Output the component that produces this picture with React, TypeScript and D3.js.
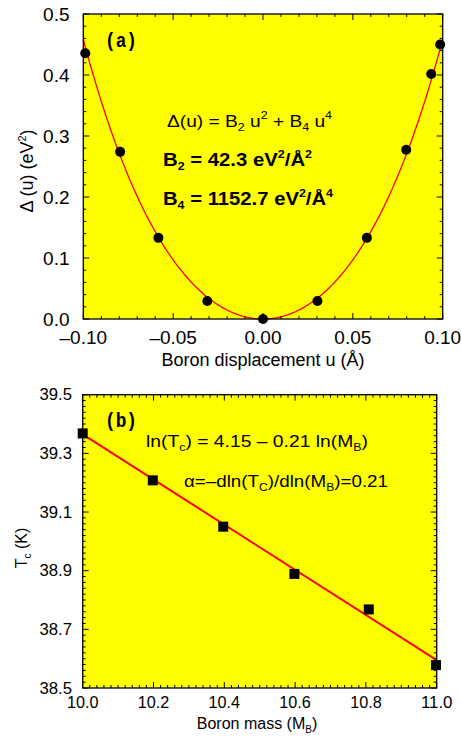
import * as d3 from "d3";

// panel (a): energy vs boron displacement
const dispU = [-0.0989, -0.0795, -0.0582, -0.031, 0, 0.0303, 0.0578, 0.0797, 0.0936, 0.0986];
const deltaE = [0.4356, 0.274, 0.133, 0.0295, 0, 0.0295, 0.133, 0.2776, 0.4016, 0.45];
// coefficients of the drawn red curve
const curveB2 = 36.4;
const curveB4 = 943;
const aXTicks = [-0.1, -0.05, 0, 0.05, 0.1];
const aXLabels = ["\u20130.10", "\u20130.05", "0.00", "0.05", "0.10"];
const aYTicks = [0, 0.1, 0.2, 0.3, 0.4, 0.5];
const aYLabels = ["0.0", "0.1", "0.2", "0.3", "0.4", "0.5"];

// panel (b): Tc vs boron mass
const boronMass = [10.0, 10.198, 10.397, 10.598, 10.808, 10.998];
const tcK = [39.368, 39.208, 39.05, 38.889, 38.768, 38.578];
const fitMass = [10.0, 11.0];
const fitTc = [39.365, 38.595];
const bXTicks = [10.0, 10.2, 10.4, 10.6, 10.8, 11.0];
const bXLabels = ["10.0", "10.2", "10.4", "10.6", "10.8", "11.0"];
const bYTicks = [38.5, 38.7, 38.9, 39.1, 39.3, 39.5];
const bYLabels = ["38.5", "38.7", "38.9", "39.1", "39.3", "39.5"];

const SANS = "'Liberation Sans', Arial, sans-serif";
const MONO = "'Liberation Mono', 'Courier New', monospace";

function Frame({ x, y, xMajor, yMajor, xMinor, yMinor }) {
  const [x0, x1] = x.range();
  const [y0, y1] = y.range(); // y0 bottom, y1 top
  const [xd0, xd1] = x.domain();
  const [yd0, yd1] = y.domain();
  const xm = d3.range(Math.round((xd1 - xd0) / xMinor) + 1).map((i) => xd0 + i * xMinor);
  const ym = d3.range(Math.round((yd1 - yd0) / yMinor) + 1).map((i) => yd0 + i * yMinor);
  const isMajor = (v, arr) => arr.some((m) => Math.abs(m - v) < 1e-9);
  return (
    <g stroke="#000" fill="none">
      {xm.map((v, i) => {
        const L = isMajor(v, xMajor) ? 6 : 3;
        const px = x(v);
        return (
          <g key={"x" + i}>
            <line x1={px} x2={px} y1={y0} y2={y0 - L} strokeWidth={1} />
            <line x1={px} x2={px} y1={y1} y2={y1 + L} strokeWidth={1} />
          </g>
        );
      })}
      {ym.map((v, i) => {
        const L = isMajor(v, yMajor) ? 6 : 3;
        const py = y(v);
        return (
          <g key={"y" + i}>
            <line x1={x0} x2={x0 + L} y1={py} y2={py} strokeWidth={1} />
            <line x1={x1} x2={x1 - L} y1={py} y2={py} strokeWidth={1} />
          </g>
        );
      })}
      <rect x={x0} y={y1} width={x1 - x0} height={y0 - y1} strokeWidth={1.3} />
    </g>
  );
}

function PanelA() {
  const x = d3.scaleLinear().domain([-0.1, 0.1]).range([83.3, 442.7]);
  const y = d3.scaleLinear().domain([0, 0.5]).range([319, 14]);
  const us = d3.range(0, 201).map((i) => -0.1 + i * 0.001);
  const curve = d3
    .line<number>()
    .x((u) => x(u))
    .y((u) => y(curveB2 * u * u + curveB4 * u ** 4));
  return (
    <g>
      <rect x={83.3} y={14} width={442.7 - 83.3} height={305} fill="#ffff00" />
      <path d={curve(us)} fill="none" stroke="#ff0000" strokeWidth={1.3} />
      {dispU.map((u, i) => (
        <circle key={i} cx={x(u)} cy={y(deltaE[i])} r={5} fill="#000" />
      ))}
      <Frame x={x} y={y} xMajor={aXTicks} yMajor={aYTicks} xMinor={0.01} yMinor={0.02} />
      {aXTicks.map((t, i) => (
        <text key={i} x={x(t)} y={344} textAnchor="middle" fontSize={19} fontFamily={SANS}>
          {aXLabels[i]}
        </text>
      ))}
      {aYTicks.map((t, i) => (
        <text key={i} x={69.5} y={y(t) + 6.8} textAnchor="end" fontSize={19} fontFamily={SANS}>
          {aYLabels[i]}
        </text>
      ))}
      <text x={263} y={366} textAnchor="middle" fontSize={18} fontFamily={SANS}>
        Boron displacement u (Å)
      </text>
      <text transform="translate(33,171) rotate(-90)" textAnchor="middle" fontSize={18} fontFamily={SANS}>
        Δ (u) (eV<tspan dy={-7} fontSize={11}>2</tspan><tspan dy={7}>)</tspan>
      </text>
      <text x={105} y={47} fontSize={20} fontWeight="bold" fontFamily={MONO}
        textLength={32} lengthAdjust="spacingAndGlyphs">(a)</text>
      <text x={167} y={127} fontSize={17} fontFamily={SANS}
        textLength={165} lengthAdjust="spacingAndGlyphs">
        Δ(u) = B<tspan dy={4} fontSize={11}>2</tspan><tspan dy={-4}> u</tspan>
        <tspan dy={-8} fontSize={11}>2</tspan><tspan dy={8}> + B</tspan>
        <tspan dy={4} fontSize={11}>4</tspan><tspan dy={-4}> u</tspan>
        <tspan dy={-8} fontSize={11}>4</tspan>
      </text>
      <text x={163} y={166} fontSize={18} fontWeight="bold" fontFamily={SANS}
        textLength={149} lengthAdjust="spacingAndGlyphs">
        B<tspan dy={4} fontSize={11}>2</tspan><tspan dy={-4}>  = 42.3 eV</tspan>
        <tspan dy={-8} fontSize={11}>2</tspan><tspan dy={8}>/Å</tspan>
        <tspan dy={-8} fontSize={11}>2</tspan>
      </text>
      <text x={163} y={205} fontSize={18} fontWeight="bold" fontFamily={SANS}
        textLength={170} lengthAdjust="spacingAndGlyphs">
        B<tspan dy={4} fontSize={11}>4</tspan><tspan dy={-4}>  = 1152.7 eV</tspan>
        <tspan dy={-8} fontSize={11}>2</tspan><tspan dy={8}>/Å</tspan>
        <tspan dy={-8} fontSize={11}>4</tspan>
      </text>
    </g>
  );
}

function PanelB() {
  const x = d3.scaleLinear().domain([10, 11]).range([82.7, 436.7]);
  const y = d3.scaleLinear().domain([38.5, 39.5]).range([688, 394.7]);
  const fit = d3
    .line<number>()
    .x((m) => x(m))
    .y((m, i) => y(fitTc[i]));
  const s = 10;
  return (
    <g>
      <rect x={82.7} y={394.7} width={436.7 - 82.7} height={688 - 394.7} fill="#ffff00" />
      <path d={fit(fitMass)} fill="none" stroke="#ff0000" strokeWidth={2} />
      {boronMass.map((m, i) => (
        <rect key={i} x={x(m) - s / 2} y={y(tcK[i]) - s / 2} width={s} height={s} fill="#000" />
      ))}
      <Frame x={x} y={y} xMajor={bXTicks} yMajor={bYTicks} xMinor={0.02} yMinor={0.02} />
      {bXTicks.map((t, i) => (
        <text key={i} x={x(t)} y={708} textAnchor="middle" fontSize={16} fontFamily={SANS}
          textLength={31.5} lengthAdjust="spacingAndGlyphs">
          {bXLabels[i]}
        </text>
      ))}
      {bYTicks.map((t, i) => (
        <text key={i} x={72} y={y(t) + 5.5} textAnchor="end" fontSize={16} fontFamily={SANS}
          textLength={32.5} lengthAdjust="spacingAndGlyphs">
          {bYLabels[i]}
        </text>
      ))}
      <text x={257} y={729} textAnchor="middle" fontSize={16} fontFamily={SANS}>
        Boron mass (M<tspan dy={4} fontSize={10}>B</tspan><tspan dy={-4}>)</tspan>
      </text>
      <text transform="translate(27,548) rotate(-90)" textAnchor="middle" fontSize={16} fontFamily={SANS}>
        T<tspan dy={4} fontSize={10}>c</tspan><tspan dy={-4}> (K)</tspan>
      </text>
      <text x={105} y={427} fontSize={20} fontWeight="bold" fontFamily={MONO}
        textLength={32} lengthAdjust="spacingAndGlyphs">(b)</text>
      <text x={146} y={447} fontSize={17} fontFamily={SANS}
        textLength={222} lengthAdjust="spacingAndGlyphs">
        ln(T<tspan dy={4} fontSize={11}>c</tspan><tspan dy={-4}>) = 4.15  – 0.21 ln(M</tspan>
        <tspan dy={4} fontSize={11}>B</tspan><tspan dy={-4}>)</tspan>
      </text>
      <text x={184} y={487} fontSize={17} fontFamily={SANS}
        textLength={204} lengthAdjust="spacingAndGlyphs">
        α=–dln(T<tspan dy={4} fontSize={11}>C</tspan><tspan dy={-4}>)/dln(M</tspan>
        <tspan dy={4} fontSize={11}>B</tspan><tspan dy={-4}>)=0.21</tspan>
      </text>
    </g>
  );
}

export default function App() {
  return (
    <svg
      width={461}
      height={737}
      style={{ position: "absolute", left: 0, top: 0, background: "#fff" }}
    >
      <PanelA />
      <PanelB />
    </svg>
  );
}
